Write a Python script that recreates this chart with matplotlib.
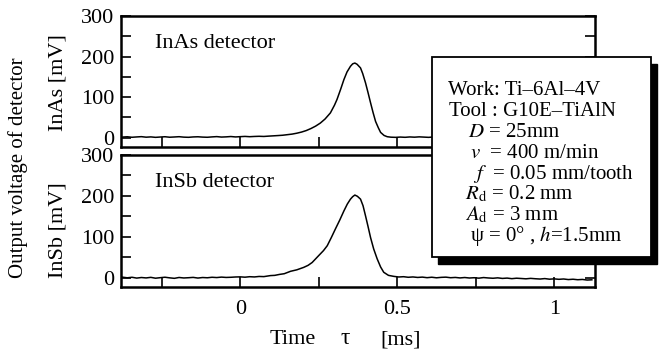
import matplotlib
matplotlib.use("Agg")
import matplotlib.pyplot as plt
from matplotlib.patches import Rectangle
from matplotlib.ticker import MultipleLocator

plt.rcParams["font.family"] = ["Liberation Serif", "DejaVu Serif"]
plt.rcParams["mathtext.fontset"] = "stix"

# InAs detector trace (time in ms, output in mV)
tau_inas = [-0.375, -0.36, -0.345, -0.33, -0.315, -0.30, -0.285, -0.27, -0.255, -0.24,
            -0.225, -0.21, -0.195, -0.18, -0.165, -0.15, -0.135, -0.12, -0.105, -0.09,
            -0.075, -0.06, -0.045, -0.03, -0.015, 0.0, 0.015, 0.03, 0.045, 0.06,
            0.075, 0.09, 0.105, 0.12, 0.135, 0.15, 0.165, 0.18, 0.195, 0.21,
            0.225, 0.24, 0.255, 0.27, 0.287, 0.30, 0.308, 0.32, 0.33, 0.34,
            0.351, 0.358, 0.365, 0.372, 0.383, 0.39, 0.399, 0.407, 0.415, 0.423,
            0.431, 0.44, 0.447, 0.458, 0.468, 0.48, 0.495, 0.51, 0.525, 0.54,
            0.555, 0.57, 0.585, 0.60, 0.615, 0.63, 0.645, 0.66, 0.675, 0.69,
            0.705, 0.72, 0.735, 0.75, 0.765, 0.78, 0.795, 0.81, 0.825, 0.84,
            0.855, 0.87, 0.885, 0.90, 0.915, 0.93, 0.945, 0.96, 0.975, 0.99,
            1.005, 1.02, 1.035, 1.05, 1.065, 1.08, 1.095, 1.11, 1.125]
mv_inas = [1.5, 2.2, 1.0, 1.8, 2.5, 1.2, 1.9, 0.8, 1.6, 2.3,
           1.1, 1.7, 2.4, 1.3, 0.9, 1.8, 2.2, 1.4, 1.0, 1.9,
           2.6, 1.5, 2.0, 2.8, 1.8, 2.5, 3.1, 2.4, 3.0, 3.4,
           3.0, 3.8, 4.5, 5.2, 6.0, 7.4, 8.8, 11.0, 13.8, 17.5,
           22.5, 28.5, 36.0, 46.0, 61.0, 80.0, 94.0, 120.0, 143.0, 162.0,
           176.0, 182.0, 184.0, 181.0, 172.0, 158.0, 135.0, 111.0, 86.0, 62.0,
           40.0, 24.0, 13.0, 5.5, 2.4, 1.2, 0.8, 1.5, 0.9, 1.8,
           1.2, 2.0, 1.4, 0.8, 1.7, 2.2, 1.3, 1.9, 1.0, 1.6,
           2.3, 1.4, 0.9, 1.8, 1.2, 2.0, 1.5, 0.7, 1.6, 2.1,
           1.2, 1.8, 0.9, 1.5, 2.0, 1.1, 1.6, 0.8, 1.4, 1.9,
           1.0, 1.5, 0.6, 1.2, 1.7, 0.9, 1.3, 0.7, 1.1]

# InSb detector trace (time in ms, output in mV)
tau_insb = [-0.375, -0.36, -0.345, -0.33, -0.315, -0.30, -0.285, -0.27, -0.255, -0.24,
            -0.225, -0.21, -0.195, -0.18, -0.165, -0.15, -0.135, -0.12, -0.105, -0.09,
            -0.075, -0.06, -0.045, -0.03, -0.015, 0.0, 0.015, 0.03, 0.045, 0.06,
            0.075, 0.096, 0.11, 0.125, 0.14, 0.16, 0.18, 0.202, 0.216, 0.229,
            0.25, 0.265, 0.277, 0.29, 0.303, 0.317, 0.33, 0.341, 0.351, 0.358,
            0.365, 0.373, 0.383, 0.391, 0.399, 0.407, 0.415, 0.425, 0.436, 0.447,
            0.457, 0.472, 0.489, 0.505, 0.52, 0.535, 0.55, 0.565, 0.58, 0.595,
            0.61, 0.625, 0.64, 0.655, 0.67, 0.685, 0.70, 0.715, 0.73, 0.745,
            0.76, 0.775, 0.79, 0.805, 0.82, 0.835, 0.85, 0.865, 0.88, 0.895,
            0.91, 0.925, 0.94, 0.955, 0.97, 0.985, 1.0, 1.015, 1.03, 1.045,
            1.06, 1.075, 1.09, 1.105, 1.12]
mv_insb = [1.0, -0.5, 0.8, -1.2, 0.2, -0.8, 0.6, -1.5, -0.2, 0.9,
           -0.6, -1.8, 0.3, -0.9, -0.3, 0.5, -1.1, 0.2, -0.4, 0.8,
           0.1, 1.2, 0.4, 0.8, 1.5, 1.8, 1.0, 2.2, 1.6, 2.8,
           2.4, 4.9, 5.5, 7.8, 9.5, 15.4, 19.0, 25.0, 30.0, 37.0,
           54.0, 66.0, 78.0, 98.0, 119.0, 141.0, 163.0, 180.0, 192.0, 198.0,
           202.0, 199.0, 192.0, 176.0, 151.0, 125.0, 98.0, 70.0, 46.0, 26.0,
           13.0, 5.5, 3.0, 1.5, 2.2, 0.8, 1.6, 0.4, 1.2, -0.2,
           0.9, -0.5, 0.6, 1.1, -0.3, 0.4, -0.8, 0.2, -1.0, -0.3,
           -1.4, 0.1, -0.9, -1.6, -0.6, -2.0, -1.2, -2.6, -1.5, -2.2,
           -3.0, -1.9, -2.8, -3.5, -2.4, -3.9, -3.1, -4.2, -3.4, -4.8,
           -4.0, -5.2, -4.5, -6.0, -5.4]

yticks = [0, 100, 200, 300]
xticks = [0, 0.5, 1]
xtick_labels = ["0", "0.5", "1"]

box_lines = [
    "Work: Ti\u20136Al\u20134V",
    "Tool : G10E\u2013TiAlN",
    "$D$ = 25mm",
    "$v$  = 400 m/min",
    "$f$  = 0.05 mm/tooth",
    "$R_\\mathrm{d}$ = 0.2 mm",
    "$A_\\mathrm{d}$ = 3 mm",
    "\u03c8 = 0\u00b0 , $h$=1.5mm",
]

W, H = 661, 352
fig = plt.figure(figsize=(W / 100, H / 100), dpi=100)

ax_top = fig.add_axes([121 / W, 1 - 147 / H, 474 / W, 131 / H])
ax_bot = fig.add_axes([121 / W, 1 - 287 / H, 474 / W, 132 / H])

for ax, tau, mv, name in [(ax_top, tau_inas, mv_inas, "InAs detector"),
                          (ax_bot, tau_insb, mv_insb, "InSb detector")]:
    ax.plot(tau, mv, color="black", linewidth=1.1)
    ax.set_xlim(-0.38, 1.13)
    ax.set_ylim(-23, 300)
    ax.set_yticks(yticks)
    ax.yaxis.set_minor_locator(MultipleLocator(50))
    ax.set_xticks(xticks)
    ax.xaxis.set_minor_locator(MultipleLocator(0.25))
    ax.tick_params(which="both", direction="in", length=7, width=1.2,
                   left=True, right=True, top=False, bottom=True, labelsize=16, pad=5)
    ax.tick_params(axis="x", pad=9)
    for sp in ax.spines.values():
        sp.set_linewidth(1.8)
    ax.text(0.072, 0.79, name, transform=ax.transAxes, fontsize=16,
            ha="left", va="center")

ax_top.set_xticklabels([])
ax_bot.set_xticklabels(xtick_labels)

# axis labels
fig.text(18 / W, 1 - 168 / H, "Output voltage of detector", rotation=90,
         ha="center", va="center", fontsize=15)
fig.text(58 / W, 1 - 83 / H, "InAs [mV]", rotation=90, ha="center", va="center", fontsize=16)
fig.text(58 / W, 1 - 230 / H, "InSb [mV]", rotation=90, ha="center", va="center", fontsize=16)
fig.text(293 / W, 1 - 340 / H, "Time", ha="center", va="center", fontsize=16)
fig.text(345 / W, 1 - 338 / H, "\u03c4", ha="center", va="center", fontsize=17)
fig.text(401 / W, 1 - 340 / H, "[ms]", ha="center", va="center", fontsize=16)

# condition box with drop shadow
bx0, by0, bx1, by1 = 432, 57, 651, 257
shadow = Rectangle(((bx0 + 6) / W, 1 - (by1 + 7) / H), (bx1 - bx0) / W, (by1 - by0) / H,
                   transform=fig.transFigure, facecolor="black", edgecolor="black", zorder=5)
box = Rectangle((bx0 / W, 1 - by1 / H), (bx1 - bx0) / W, (by1 - by0) / H,
                transform=fig.transFigure, facecolor="white", edgecolor="black",
                linewidth=1.3, zorder=6)
fig.add_artist(shadow)
fig.add_artist(box)

line_x = [448, 449, 468, 470, 473, 465, 465, 470]
line_y = [95, 116, 137, 158, 179, 199, 220, 241]
for s, lx, ly in zip(box_lines, line_x, line_y):
    fig.text(lx / W, 1 - ly / H, s, ha="left", va="baseline", fontsize=15, zorder=7)

fig.savefig("out.png", dpi=100)
